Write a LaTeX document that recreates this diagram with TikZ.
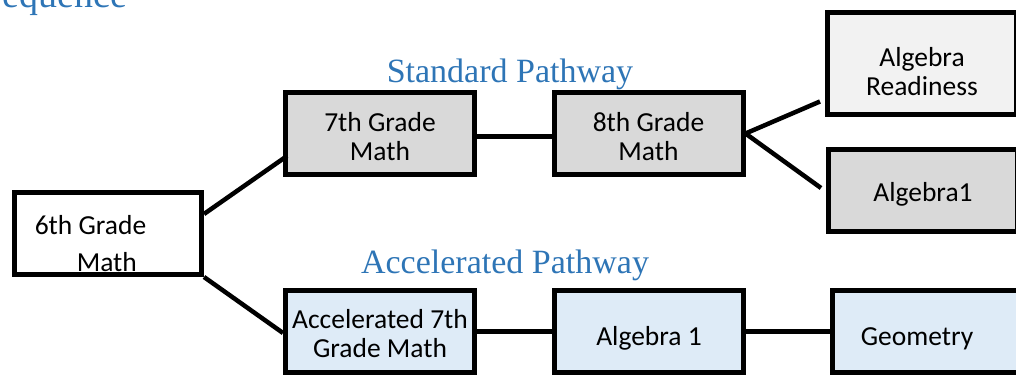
\documentclass[tikz,border=0pt]{standalone}
\usepackage{fontspec}
\setmainfont{Carlito}
\newfontfamily\pathfont{Liberation Serif}
\usetikzlibrary{calc}

\definecolor{pathblue}{HTML}{2E75B6}
\definecolor{stdgrey}{HTML}{D9D9D9}
\definecolor{palegrey}{HTML}{F2F2F2}
\definecolor{accblue}{HTML}{DEEBF7}

\tikzset{
  course/.style={draw, line width=5pt, inner sep=0pt, minimum width=189pt,
    minimum height=82pt, align=center, font=\fontsize{27.5}{29}\selectfont},
  pathlabel/.style={text=pathblue, anchor=base, font=\pathfont\fontsize{34}{36}\selectfont},
  link/.style={line width=4.5pt}
}

\begin{document}
\begin{tikzpicture}[x=1pt, y=-1pt]
            \useasboundingbox (0,0) rectangle (1016,377);
            \clip (0,0) rectangle (1016,377);
            % title, cut off at the top
            \node[pathlabel, anchor=base west, font=\pathfont\fontsize{38}{40}\selectfont] (title) at (-1,8) {equence};
            % pathway labels
            \node[pathlabel] (stdlabel) at (510,83) {Standard Pathway};
            \node[pathlabel] (acclabel) at (505,273) {Accelerated Pathway};
            % courses
            \node[course, fill=white, minimum width=187pt, align=left] (sixth) at (108,233.5)
                {\rule{0pt}{40pt}6th Grade\hspace*{35pt}\\[8pt]\hspace*{42pt}Math};
            \node[course, fill=stdgrey] (seventh) at (380,133.5) {\rule{0pt}{26pt}7th Grade\\Math};
            \node[course, fill=stdgrey] (eighth) at (648.5,133.5) {\rule{0pt}{26pt}8th Grade\\Math};
            \node[course, fill=palegrey, minimum height=102pt] (readiness) at (922,63.5) {\rule{0pt}{36pt}Algebra\\Readiness};
            \node[course, fill=stdgrey] (algone) at (923,190) {\rule{0pt}{28pt}Algebra1};
            \node[course, fill=accblue] (accseven) at (380,331.5) {\rule{0pt}{24pt}Accelerated 7th\\Grade Math};
            \node[course, fill=accblue] (algacc) at (649,331.5) {\rule{0pt}{32pt}Algebra 1};
            \node[course, fill=accblue] (geometry) at (927,331.5) {\rule{0pt}{32pt}\hspace*{-20pt}Geometry};
            % connectors
            \draw[link] ($(sixth.north east)+(0,24)$) -- ($(seventh.north west)+(4,66)$);
            \draw[link] (sixth.south east) -- ($(accseven.north west)+(0,45)$);
            \draw[link] ($(seventh.east)+(0,3)$) -- ($(eighth.west)+(0,3)$);
            \draw[link] (eighth.east) -- ($(readiness.west)+(-5,38)$);
            \draw[link] (eighth.east) -- ($(algone.west)+(-5,-2)$);
            \draw[link] (accseven.east) -- (algacc.west);
            \draw[link] (algacc.east) -- (geometry.west);
        \end{tikzpicture}
\end{document}
